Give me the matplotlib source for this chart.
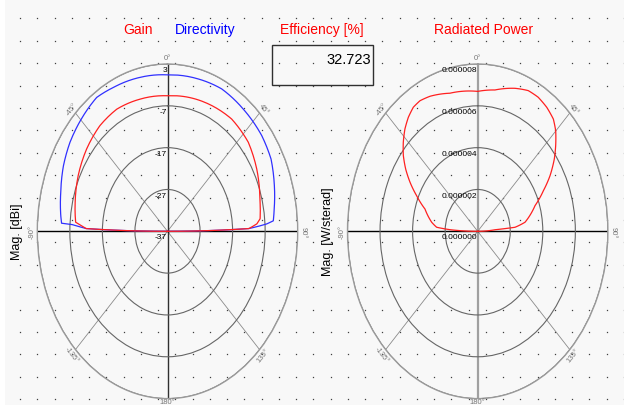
import matplotlib.pyplot as plt
import numpy as np

plt.rcParams['font.family'] = ['Liberation Sans', 'DejaVu Sans']

# left plot: Gain / Directivity [dBi] vs angle (deg, 0 = up, clockwise positive)
dir_angles = [-90, -88.5, -86.9, -86.6, -83.5, -74.1, -63.9, -54.6, -43.1, -34.2, -25.8, -12.9, 0,
              14.6, 26, 38.5, 51.7, 61.5, 71.6, 80.8, 85.6, 86.7, 88.5, 90]
directivity = [-37, -12, -8.0, -4.4, -4.0, -2.9, -1.4, -0.25, 0.85, 1.7, 1.2, 0.76, 0.4,
               0.63, 0.9, 0.36, -0.1, -0.8, -2.4, -3.8, -4.4, -6.5, -12, -37]
gain_angles = [-90, -88.5, -86.7, -85.6, -76.3, -64.1, -51.6, -39.4, -28.1, -14.9, 0,
               20.5, 36.3, 49.4, 61.5, 74.8, 84, 86.3, 88.5, 90]
gain = [-37, -12, -10.1, -8.7, -7.8, -6.5, -5.3, -4.3, -3.9, -4.3, -4.6,
        -4.1, -3.7, -4.3, -5.8, -7.6, -8.4, -9.5, -12, -37]
db_ticks = [-37, -27, -17, -7, 3]

# right plot: radiated power [W/sterad]
pow_angles = [-90, -87.4, -85.6, -81.3, -71.8, -65.6, -60.6, -56.1, -51.6, -47, -42.4, -38,
              -33.7, -29.6, -24.4, -14.5, 0, 8.9, 18.5, 24.8, 30.1, 35.6, 40.9, 44.9, 49.5,
              53.7, 59.1, 64.3, 70.8, 81.5, 85.2, 86, 90]
power = [0, 1.7e-6, 2.53e-6, 2.86e-6, 3.41e-6, 4.12e-6, 4.77e-6, 5.33e-6, 5.83e-6, 6.25e-6,
         6.63e-6, 6.92e-6, 7.13e-6, 7.18e-6, 7.09e-6, 6.82e-6, 6.69e-6, 6.84e-6, 7.21e-6,
         7.41e-6, 7.41e-6, 7.29e-6, 7.10e-6, 6.79e-6, 6.30e-6, 5.84e-6, 5.18e-6, 4.48e-6,
         3.73e-6, 2.94e-6, 2.30e-6, 1.07e-6, 0]
pow_ticks = [0, 2e-6, 4e-6, 6e-6, 8e-6]

efficiency = 32.723
angle_ticks = [0, 45, 90, 135, 180, -135, -90, -45]
angle_rot = [0, -52, -90, 52, 0, -52, 90, 52]
angle_off = [1.04, 1.04, 1.04, 1.04, 1.015, 1.04, 1.04, 1.04]

W, H = 624, 406
fig = plt.figure(figsize=(W / 100, H / 100), dpi=100)
fig.patch.set_facecolor('#f8f8f8')

def fx(px):
    return px / W

def fy(py):
    return 1 - py / H

# background with dot pattern
bg = fig.add_axes([0, 0, 1, 1])
bg.set_xlim(0, W)
bg.set_ylim(H, 0)
bg.axis('off')
bg.axvspan(0, 5, color='white', lw=0)
xs = np.arange(20, W, 17.25)
ys = np.arange(19.3, H, 22.4)
gx, gy = np.meshgrid(xs, ys)
bg.plot(gx.ravel(), gy.ravel(), ls='none', marker='s', ms=0.9, mew=0, color='#404040')


def make_polar(cx, rmin, rmax, ticks, labels, vcolor, vlw):
    cy, rx, ry = 232.3, 130.2, 167.3
    ax = fig.add_axes([fx(cx - rx), fy(cy + ry), 2 * rx / W, 2 * ry / H], projection='polar')
    ax.set_aspect('auto')
    ax.set_facecolor('none')
    ax.set_theta_zero_location('N')
    ax.set_theta_direction(-1)
    ax.set_ylim(rmin, rmax)
    ax.set_xticks([])
    ax.set_yticks(ticks)
    ax.set_yticklabels([])
    ax.yaxis.grid(True, color='#666666', lw=0.8)
    ax.spines['polar'].set_color('#9a9a9a')
    ax.spines['polar'].set_linewidth(1.0)
    # spokes
    for a in [45, 135, -45, -135]:
        ax.plot([np.deg2rad(a)] * 2, [rmin, rmax], color='#8a8a8a', lw=0.6, zorder=1)
    ax.plot([0, 0], [rmin, rmax], color=vcolor, lw=vlw, zorder=1)
    ax.plot([np.pi, np.pi], [rmin, rmax], color=vcolor, lw=vlw, zorder=1)
    ax.plot([np.pi / 2] * 2, [rmin, rmax], color='black', lw=1.0, zorder=1)
    ax.plot([-np.pi / 2] * 2, [rmin, rmax], color='black', lw=1.0, zorder=1)
    # radial labels
    for t, lab in zip(ticks, labels):
        ax.annotate(lab, xy=(0, t), xytext=(-0.5, -1.5), textcoords='offset points',
                    ha='right', va='top', fontsize=6, color='black', zorder=5)
    # angle labels
    for a, rot, off in zip(angle_ticks, angle_rot, angle_off):
        ax.text(np.deg2rad(a), rmin + (rmax - rmin) * off, '%d°' % a, rotation=rot,
                ha='center', va='center', fontsize=5.5, color='#777777', clip_on=False)
    return ax


def curve(ax, ang, vals, color):
    line, = ax.plot(np.deg2rad(ang), vals, color=color, lw=0.9, zorder=3)
    # draw segments along the polar grid instead of straight chords
    line.get_path()._interpolation_steps = 12
    return line


ax1 = make_polar(167.5, -37, 3, db_ticks, ['%d' % t for t in db_ticks], '#303030', 1.0)
curve(ax1, dir_angles, directivity, '#3030ff')
curve(ax1, gain_angles, gain, '#ff2020')

ax2 = make_polar(477.7, 0, 8e-6, pow_ticks, ['%.6f' % t for t in pow_ticks], '#a0a0a0', 1.6)
curve(ax2, pow_angles, power, '#ff2020')

# titles
fig.text(fx(138), fy(34), 'Gain', color='#ff0000', fontsize=10, ha='center', va='baseline')
fig.text(fx(205.5), fy(34), 'Directivity', color='#0000ff', fontsize=10, ha='center', va='baseline')
fig.text(fx(322), fy(34), 'Efficiency [%]', color='#ff0000', fontsize=10, ha='center', va='baseline')
fig.text(fx(483.5), fy(34), 'Radiated Power', color='#ff0000', fontsize=10, ha='center', va='baseline')

# efficiency box
bg.add_patch(plt.Rectangle((272.3, 46), 100.4, 40, fill=False, ec='#303030', lw=1.0))
bg.text(371, 63.5, '%.3f' % efficiency, fontsize=10.5, ha='right', va='baseline', color='black')

# axis labels
fig.text(fx(17), fy(232), 'Mag. [dBi]', rotation=90, fontsize=9, ha='center', va='center')
fig.text(fx(328), fy(232), 'Mag. [W/sterad]', rotation=90, fontsize=9, ha='center', va='center')

fig.savefig('out.png', dpi=100, facecolor=fig.get_facecolor())
